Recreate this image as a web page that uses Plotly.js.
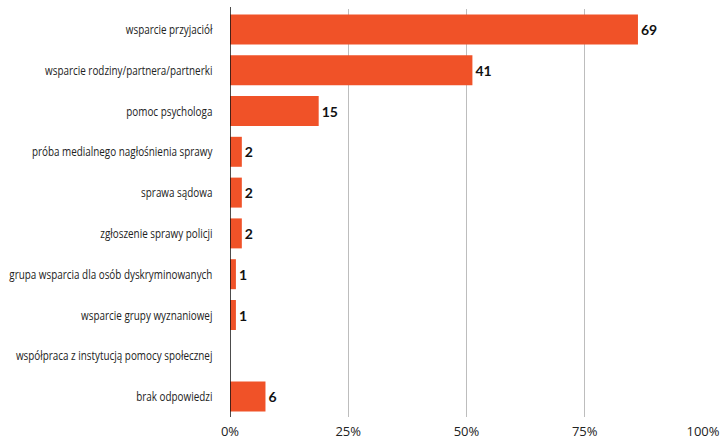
<!DOCTYPE html>
<html><head><meta charset="utf-8">
<script src="https://cdn.plot.ly/plotly-3.0.1.min.js"></script>
<style>html,body{margin:0;padding:0;background:#fff}#c{width:720px;height:440px}</style>
</head><body><div id="c"></div>
<script>
const categories = [
  "wsparcie przyjaciół",
  "wsparcie rodziny/partnera/partnerki",
  "pomoc psychologa",
  "próba medialnego nagłośnienia sprawy",
  "sprawa sądowa",
  "zgłoszenie sprawy policji",
  "grupa wsparcia dla osób dyskryminowanych",
  "wsparcie grupy wyznaniowej",
  "współpraca z instytucją pomocy społecznej",
  "brak odpowiedzi"
];
const counts = [69, 41, 15, 2, 2, 2, 1, 1, 0, 6];
const percents = [86.25, 51.25, 18.75, 2.5, 2.5, 2.5, 1.25, 1.25, 0, 7.5];
const labels = ["69", "41", "15", "2", "2", "2", "1", "1", "", "6"];
const tickVals = [0, 25, 50, 75, 100];
const tickText = ["0%", "25%", "50%", "75%", "100%"];

const trace = {
  type: 'bar', orientation: 'h',
  y: categories, x: percents,
  text: labels, textposition: 'outside', cliponaxis: false,
  textfont: {family: 'Lato, "DejaVu Sans", sans-serif', size: 14, color: '#111', weight: 'bold'},
  marker: {color: '#f05228'},
  hoverinfo: 'none'
};
const layout = {
  width: 720, height: 440,
  margin: {l: 230, r: 17, t: 9, b: 23},
  paper_bgcolor: '#fff', plot_bgcolor: '#fff',
  bargap: 0.265,
  showlegend: false,
  xaxis: {
    range: [0, 100], tickvals: tickVals, ticktext: tickText,
    showgrid: true, gridcolor: '#bdbdbd', gridwidth: 1,
    zeroline: false, showline: false,
    ticks: '', ticklabelstandoff: 5,
    tickfont: {family: '"Open Sans", sans-serif', size: 13, color: '#222'},
    fixedrange: true
  },
  yaxis: {
    autorange: 'reversed', type: 'category',
    showgrid: false, zeroline: false,
    showline: false,
    ticks: 'outside', ticklen: 14, tickcolor: 'rgba(0,0,0,0)',
    tickfont: {family: '"Open Sans", sans-serif', size: 13, color: '#222'},
    fixedrange: true
  },
  shapes: [{type: 'line', xref: 'x', yref: 'paper', x0: 0, x1: 0, y0: 0, y1: 1.005, line: {color: '#111', width: 1.5}}]
};
Plotly.newPlot('c', [trace], layout, {displayModeBar: false, staticPlot: true}).then(function (gd) {
  // condense the category labels horizontally (the reference uses a condensed face)
  gd.querySelectorAll('.ytick text').forEach(function (t) {
    const w = t.getComputedTextLength();
    t.setAttribute('textLength', (w * 0.76).toFixed(1));
    t.setAttribute('lengthAdjust', 'spacingAndGlyphs');
  });
});
</script></body></html>
